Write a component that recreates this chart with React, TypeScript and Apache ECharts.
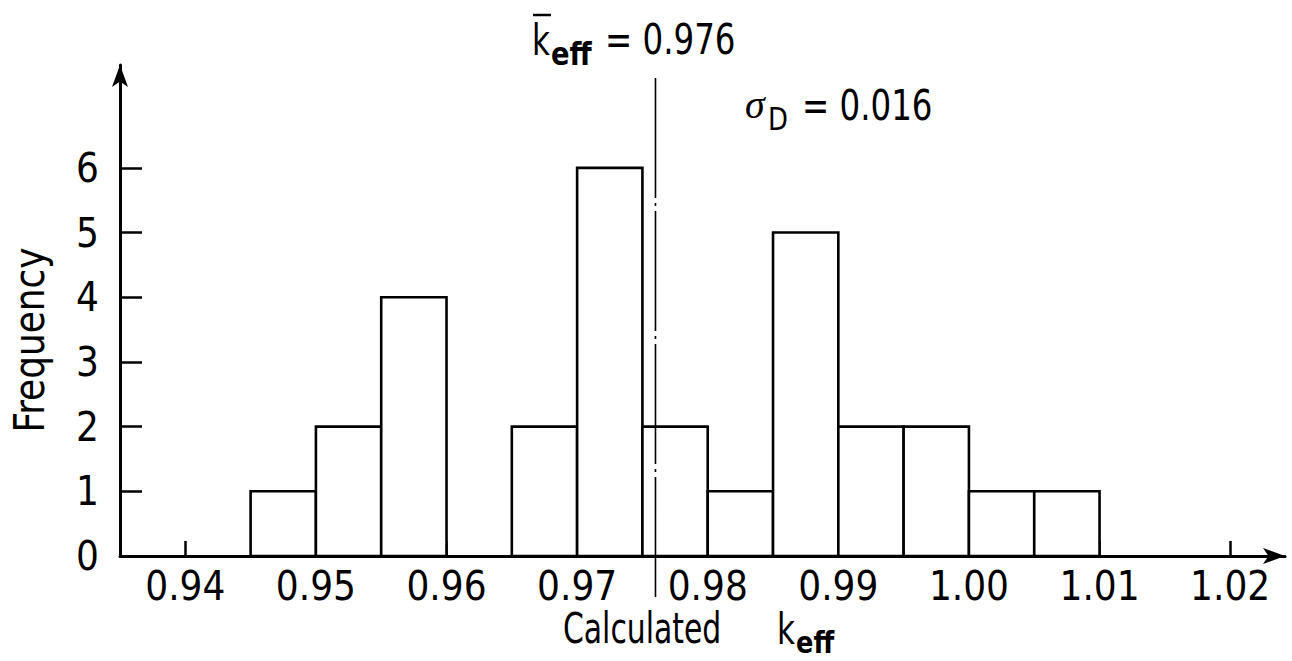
import React, { useEffect, useRef } from "react";
import * as echarts from "echarts";

// Histogram data: bin start (k_eff) and frequency
const binStarts = [0.945, 0.95, 0.955, 0.96, 0.965, 0.97, 0.975, 0.98, 0.985, 0.99, 0.995, 1.0, 1.005];
const frequencies = [1, 2, 4, 0, 2, 6, 2, 1, 5, 2, 2, 1, 1];
const binWidth = 0.005;
const xTickValues = [0.94, 0.95, 0.96, 0.97, 0.98, 0.99, 1.0, 1.01, 1.02];
const yTickValues = [0, 1, 2, 3, 4, 5, 6];
const meanK = 0.976;
const sigmaD = 0.016;

const FONT = '"DejaVu Sans Condensed", "Liberation Sans", sans-serif';

export default function App() {
  const ref = useRef<HTMLDivElement>(null);

  useEffect(() => {
    document.body.style.margin = "0";
    if (!ref.current) return;
    const chart = echarts.init(ref.current, undefined, { renderer: "svg" });

    const option: any = {
      animation: false,
      backgroundColor: "#ffffff",
      grid: { left: 120, right: 7, top: 65, bottom: 105 },
      xAxis: {
        type: "value",
        min: 0.935,
        max: 1.0242,
        interval: 0.005,
        splitLine: { show: false },
        axisLine: {
          show: true,
          onZero: false,
          symbol: ["none", "arrow"],
          symbolSize: [12, 22],
          lineStyle: { color: "#000", width: 3 },
        },
        axisTick: {
          show: true,
          inside: true,
          length: 15,
          customValues: xTickValues,
          lineStyle: { color: "#000", width: 2.5 },
        },
        axisLabel: {
          customValues: xTickValues,
          formatter: (v: number) => v.toFixed(2),
          color: "#000",
          fontSize: 40,
          fontFamily: FONT,
          margin: 10,
        },
      },
      yAxis: {
        type: "value",
        min: 0,
        max: 7.59,
        interval: 1,
        splitLine: { show: false },
        axisLine: {
          show: true,
          onZero: false,
          symbol: ["none", "arrow"],
          symbolSize: [12, 22],
          lineStyle: { color: "#000", width: 3 },
        },
        axisTick: {
          show: true,
          inside: true,
          length: 22,
          customValues: yTickValues.filter((v) => v > 0),
          lineStyle: { color: "#000", width: 2.5 },
        },
        axisLabel: {
          customValues: yTickValues,
          color: "#000",
          fontSize: 40,
          fontFamily: FONT,
          margin: 21,
        },
      },
      series: [
        {
          type: "custom",
          data: binStarts.map((b, i) => [b, frequencies[i]]),
          renderItem: (params: any, api: any) => {
            const x0 = api.value(0);
            const c = api.value(1);
            if (!c) return null;
            const p0 = api.coord([x0, c]);
            const p1 = api.coord([x0 + binWidth, 0]);
            return {
              type: "rect",
              shape: { x: p0[0], y: p0[1], width: p1[0] - p0[0], height: p1[1] - p0[1] },
              style: { fill: "#ffffff", stroke: "#000000", lineWidth: 2.6 },
            };
          },
        },
      ],
    };

    chart.setOption(option);

    const mx = chart.convertToPixel({ xAxisIndex: 0 }, meanK) as number;
    const yTop = chart.convertToPixel({ yAxisIndex: 0 }, 7.39) as number;
    const yBot = chart.convertToPixel({ yAxisIndex: 0 }, -0.68) as number;

    const txt = (text: string, x: number, y: number, font: string, sx = 1) => ({
      type: "text",
      x,
      y,
      scaleX: sx,
      style: { text, font, fill: "#000", textAlign: "left", textVerticalAlign: "middle" },
    });

    chart.setOption({
      graphic: [
        {
          type: "line",
          shape: { x1: mx, y1: yTop, x2: mx, y2: yBot },
          style: { stroke: "#000", lineWidth: 1.6, lineDash: [120, 5, 3, 5] },
          z: 10,
        },
        // title: k-bar eff = 0.976
        txt("k", 532, 40, `42px ${FONT}`, 0.82),
        {
          type: "line",
          shape: { x1: 533, y1: 15, x2: 551, y2: 15 },
          style: { stroke: "#000", lineWidth: 2.5 },
        },
        txt("eff", 551, 54, `600 32px ${FONT}`, 0.95),
        txt(`= ${meanK.toFixed(3)}`, 605, 40, `42px ${FONT}`, 0.86),
        // sigma_D = 0.016
        txt("σ", 745, 104, `italic 40px "Liberation Serif", serif`, 1),
        txt("D", 768, 119, `32px ${FONT}`, 0.9),
        txt(`= ${sigmaD.toFixed(3)}`, 802, 106, `42px ${FONT}`, 0.86),
        // x axis name
        txt("Calculated", 563, 629, `42px ${FONT}`, 0.79),
        txt("k", 777, 629, `42px ${FONT}`, 0.82),
        txt("eff", 796, 643, `600 30px ${FONT}`, 0.95),
        // y axis name
        {
          type: "text",
          x: 30,
          y: 340,
          rotation: Math.PI / 2,
          scaleX: 0.95,
          style: { text: "Frequency", font: `42px ${FONT}`, fill: "#000", textAlign: "center", textVerticalAlign: "middle" },
        },
      ],
    });

    return () => {
      chart.dispose();
    };
  }, []);

  return (
    <div
      ref={ref}
      style={{ position: "absolute", left: 0, top: 0, width: 1292, height: 661, background: "#fff" }}
    />
  );
}
